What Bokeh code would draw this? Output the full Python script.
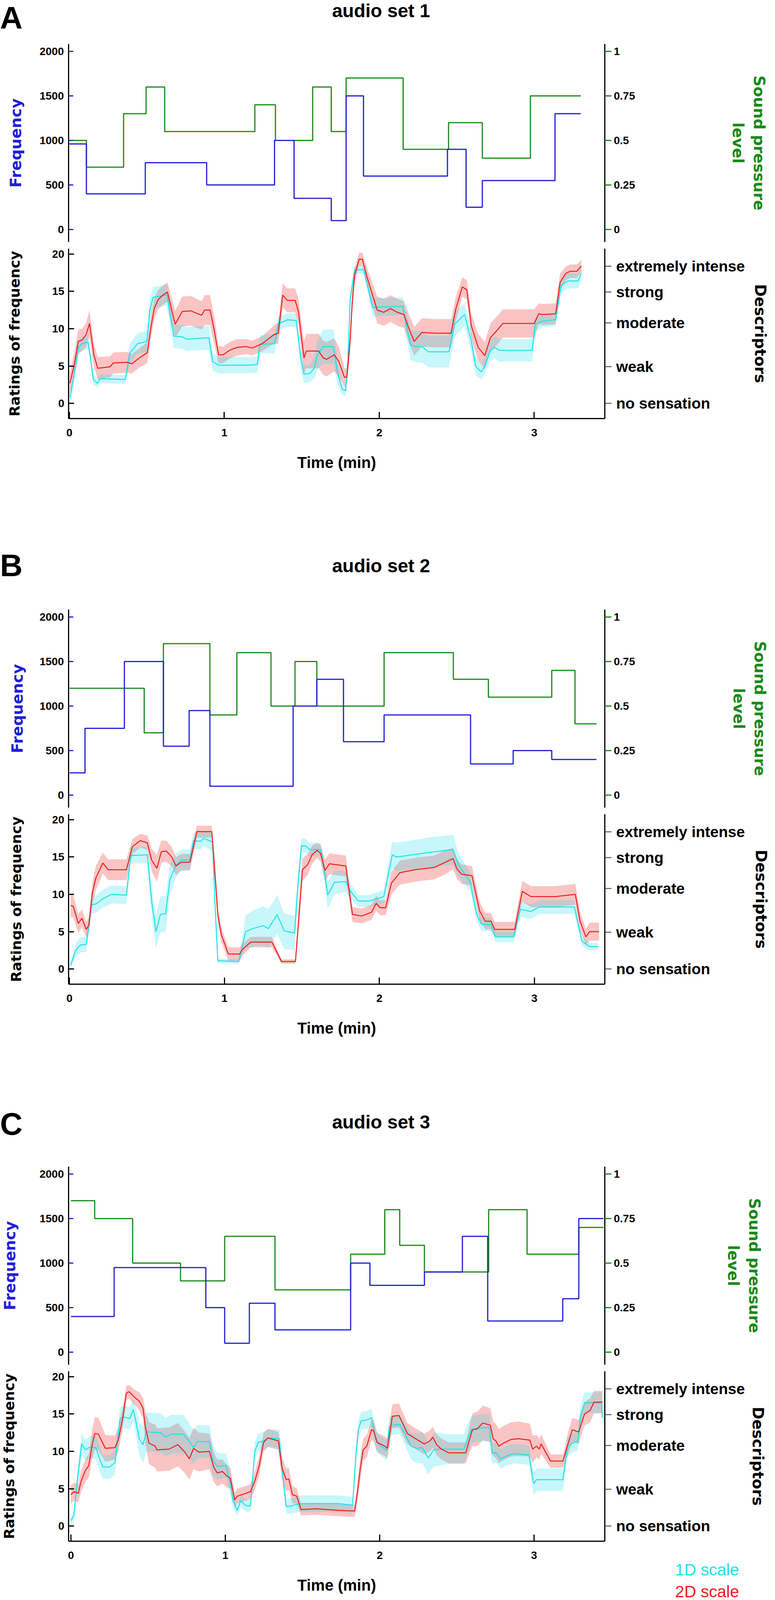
from bokeh.plotting import figure
from bokeh.models import Range1d, LinearAxis, FixedTicker, Div
from bokeh.layouts import column
from bokeh.embed import file_html
from bokeh.resources import INLINE

# ---------------- data ----------------
FREQ_TICKS = [0, 500, 1000, 1500, 2000]
SPL_TICKS = [0, 0.25, 0.5, 0.75, 1]
SPL_LABELS = ["0", "0.25", "0.5", "0.75", "1"]
RATING_TICKS = [0, 5, 10, 15, 20]
TIME_TICKS = [0, 1, 2, 3]
DESC_VALUES = [0, 4.9, 10.8, 14.9, 18.4]
DESC_LABELS = ["no sensation", "weak", "moderate", "strong", "extremely intense"]
TITLES = ["audio set 1", "audio set 2", "audio set 3"]
LETTERS = ["A", "B", "C"]
LEGEND_TEXTS = ["1D scale", "2D scale"]

# audio set 1
A_FREQ_T = [0, 0.11, 0.49, 0.886, 1.324, 1.45, 1.69, 1.786, 1.898, 2.44, 2.56, 2.665, 3.134, 3.30]
A_FREQ_V = [960, 400, 750, 500, 1000, 350, 100, 1500, 600, 900, 250, 550, 1300, 1300]
A_SPL_T = [0, 0.11, 0.35, 0.495, 0.615, 1.197, 1.33, 1.57, 1.69, 1.786, 2.154, 2.447, 2.665, 2.975, 3.30]
A_SPL_V = [0.5, 0.35, 0.65, 0.8, 0.55, 0.7, 0.5, 0.8, 0.55, 0.85, 0.45, 0.6, 0.4, 0.75, 0.75]

A_RED_T = [0.003, 0.03, 0.058, 0.083, 0.108, 0.13, 0.158, 0.183, 0.263, 0.283,
           0.373, 0.403, 0.453, 0.503, 0.528, 0.548, 0.573, 0.603, 0.633, 0.658,
           0.683, 0.728, 0.783, 0.853, 0.873, 0.908, 0.933, 0.963, 0.993, 1.033,
           1.083, 1.143, 1.18, 1.245, 1.32, 1.348, 1.377, 1.406, 1.457, 1.478,
           1.514, 1.529, 1.609, 1.638, 1.659, 1.71, 1.739, 1.775, 1.79, 1.797,
           1.812, 1.826, 1.841, 1.87, 1.891, 1.92, 1.957, 1.986, 2.029, 2.072,
           2.116, 2.159, 2.188, 2.225, 2.275, 2.362, 2.464, 2.493, 2.536, 2.565,
           2.594, 2.638, 2.681, 2.717, 2.761, 2.797, 3.0, 3.029, 3.051, 3.138,
           3.167, 3.203, 3.232, 3.275, 3.304]
A_RED_Y = [2.7, 5.0, 8.3, 8.5, 9.2, 10.7, 6.5, 4.7, 4.9, 5.4,
           5.5, 5.3, 6.1, 6.8, 10.4, 12.7, 13.9, 14.5, 14.9, 12.7,
           10.6, 12.3, 12.4, 11.8, 12.5, 12.5, 10.0, 6.5, 6.5, 7.1,
           7.5, 7.6, 7.4, 8.0, 9.2, 9.4, 14.5, 13.8, 13.8, 12.3,
           6.1, 7.0, 7.0, 6.1, 5.9, 6.5, 5.6, 3.5, 3.5, 4.9,
           8.5, 13.7, 17.2, 19.3, 19.3, 17.0, 14.5, 12.5, 12.2, 12.7,
           12.2, 11.9, 10.2, 8.3, 9.5, 9.4, 9.4, 12.6, 15.6, 15.2,
           10.4, 7.5, 6.4, 8.8, 9.8, 10.7, 10.7, 12.0, 11.9, 12.0,
           16.2, 17.4, 17.7, 17.7, 18.4]
A_RED_S = [1.5, 1.6, 1.6, 1.5, 1.6, 1.8, 1.5, 1.5, 1.4, 1.4,
           1.4, 1.3, 1.3, 1.4, 1.5, 1.4, 1.3, 1.3, 1.3, 1.6,
           1.8, 2.0, 2.0, 1.9, 2.0, 2.0, 1.9, 1.2, 1.1, 1.1,
           1.1, 1.0, 1.0, 1.0, 1.2, 1.4, 1.6, 1.6, 1.6, 1.8,
           2.2, 2.3, 2.3, 2.3, 2.3, 2.2, 2.0, 1.2, 1.2, 1.3,
           1.4, 1.2, 1.0, 0.9, 0.9, 1.2, 1.5, 1.8, 1.8, 1.8,
           1.8, 1.8, 1.9, 1.9, 1.9, 1.9, 1.9, 1.6, 1.3, 1.3,
           1.6, 1.8, 1.8, 1.9, 1.9, 1.9, 1.9, 1.4, 1.4, 1.4,
           1.2, 0.9, 0.9, 0.9, 0.8]
A_CYAN_T = [0.005, 0.03, 0.06, 0.08, 0.12, 0.135, 0.155, 0.18, 0.2, 0.36,
            0.375, 0.39, 0.44, 0.5, 0.52, 0.54, 0.63, 0.655, 0.675, 0.73,
            0.755, 0.9, 0.925, 0.963, 1.143, 1.213, 1.23, 1.325, 1.348, 1.377,
            1.406, 1.464, 1.493, 1.514, 1.551, 1.58, 1.601, 1.638, 1.703, 1.732,
            1.761, 1.783, 1.797, 1.812, 1.841, 1.899, 1.928, 1.957, 1.993, 2.152,
            2.174, 2.203, 2.239, 2.275, 2.319, 2.449, 2.486, 2.551, 2.594, 2.623,
            2.659, 2.681, 2.717, 2.746, 2.775, 2.986, 3.007, 3.051, 3.138, 3.174,
            3.217, 3.283, 3.304]
A_CYAN_Y = [0.8, 3.8, 7.5, 8.0, 8.2, 6.3, 3.2, 2.7, 3.3, 3.2,
            4.8, 6.7, 8.0, 8.3, 12.5, 14.2, 14.5, 11.2, 9.0, 8.9,
            8.6, 8.8, 5.6, 5.1, 5.1, 5.2, 7.9, 8.0, 10.7, 10.9,
            11.2, 11.1, 6.1, 3.9, 4.0, 4.7, 6.5, 7.6, 7.6, 4.0,
            1.9, 1.7, 5.6, 13.9, 17.9, 17.9, 15.4, 12.8, 12.9, 13.0,
            10.5, 7.8, 7.6, 7.6, 6.9, 6.9, 10.6, 11.9, 8.3, 4.9,
            4.2, 5.0, 7.1, 7.5, 7.1, 7.1, 10.6, 11.0, 11.2, 15.8,
            16.4, 16.4, 17.4]
A_CYAN_S = [0.5, 1.0, 1.0, 0.9, 0.9, 0.9, 0.7, 0.6, 0.6, 0.6,
            1.0, 1.3, 1.4, 1.4, 1.5, 1.4, 1.4, 1.6, 1.6, 1.6,
            1.6, 1.6, 1.2, 1.1, 1.1, 1.1, 1.2, 1.3, 1.0, 0.9,
            0.9, 0.9, 1.2, 1.2, 1.2, 1.4, 2.0, 2.3, 2.3, 1.5,
            0.8, 0.7, 1.0, 1.0, 0.5, 0.5, 0.9, 1.2, 1.2, 1.2,
            1.6, 2.0, 2.1, 2.1, 2.1, 2.1, 1.7, 1.5, 1.5, 1.2,
            1.0, 1.1, 1.4, 1.5, 1.5, 1.5, 1.0, 0.8, 0.8, 1.0,
            1.0, 1.0, 1.0]

# audio set 2
B_FREQ_T = [0, 0.1, 0.354, 0.606, 0.772, 0.906, 1.443, 1.596, 1.768, 2.03, 2.588, 2.863, 3.112, 3.40]
B_FREQ_V = [250, 750, 1500, 550, 950, 100, 1000, 1300, 600, 900, 350, 500, 400, 400]
B_SPL_T = [0, 0.482, 0.606, 0.906, 1.08, 1.30, 1.455, 1.596, 2.03, 2.477, 2.703, 3.112, 3.262, 3.40]
B_SPL_V = [0.6, 0.35, 0.85, 0.45, 0.8, 0.5, 0.75, 0.5, 0.8, 0.65, 0.55, 0.7, 0.4, 0.4]

B_RED_T = [0.007, 0.024, 0.057, 0.08, 0.108, 0.125, 0.147, 0.17, 0.215, 0.249,
           0.367, 0.406, 0.457, 0.502, 0.53, 0.564, 0.592, 0.625, 0.66, 0.687,
           0.721, 0.777, 0.822, 0.918, 0.935, 0.957, 0.98, 1.025, 1.098, 1.115,
           1.17, 1.306, 1.368, 1.458, 1.475, 1.503, 1.537, 1.565, 1.598, 1.62,
           1.649, 1.677, 1.783, 1.80, 1.826, 1.887, 1.949, 1.979, 2.004, 2.04,
           2.077, 2.132, 2.23, 2.353, 2.426, 2.475, 2.5, 2.53, 2.597, 2.646,
           2.683, 2.72, 2.744, 2.873, 2.922, 2.977, 3.136, 3.264, 3.295, 3.332,
           3.356, 3.417]
B_RED_Y = [8.5, 8.4, 6.1, 6.8, 5.3, 5.9, 10.1, 12.2, 14.2, 13.3,
           13.3, 16.4, 17.2, 16.9, 14.6, 13.5, 15.7, 15.8, 15.0, 13.8,
           14.3, 14.3, 18.4, 18.4, 13.9, 7.3, 4.6, 2.0, 2.0, 2.6,
           3.6, 3.6, 1.0, 1.0, 5.6, 13.3, 14.0, 15.3, 15.9, 15.5,
           13.2, 14.1, 13.8, 11.1, 7.3, 7.1, 7.6, 8.8, 8.2, 8.2,
           11.5, 12.9, 13.3, 13.6, 14.3, 14.8, 13.4, 12.7, 12.5, 7.8,
           6.4, 6.4, 5.3, 5.3, 10.4, 9.7, 9.7, 10.0, 6.4, 4.3,
           5.0, 5.0]
B_RED_S = [1.5, 1.5, 1.3, 1.2, 1.0, 1.0, 1.5, 1.6, 1.4, 1.4,
           1.4, 1.0, 0.9, 1.0, 1.5, 1.8, 1.5, 1.4, 1.3, 1.2,
           1.1, 1.1, 0.8, 0.8, 1.0, 1.0, 1.0, 0.9, 0.9, 0.8,
           0.7, 0.7, 0.3, 0.3, 1.3, 1.5, 1.4, 1.2, 1.0, 1.1,
           1.4, 1.4, 1.4, 1.2, 1.0, 1.0, 1.0, 1.0, 1.0, 1.0,
           1.5, 1.6, 1.6, 1.6, 1.6, 1.4, 1.3, 1.3, 1.3, 1.2,
           1.1, 1.1, 1.0, 1.0, 1.4, 1.4, 1.4, 1.4, 1.2, 1.1,
           1.2, 1.2]
B_CYAN_T = [0.007, 0.04, 0.069, 0.108, 0.142, 0.17, 0.215, 0.27, 0.367, 0.395,
            0.502, 0.53, 0.558, 0.586, 0.62, 0.648, 0.687, 0.721, 0.777, 0.8,
            0.845, 0.867, 0.923, 0.94, 0.957, 1.092, 1.137, 1.182, 1.25, 1.283,
            1.34, 1.385, 1.452, 1.475, 1.497, 1.525, 1.548, 1.62, 1.643, 1.666,
            1.71, 1.783, 1.814, 1.863, 1.936, 2.028, 2.083, 2.108, 2.316, 2.475,
            2.511, 2.585, 2.628, 2.658, 2.72, 2.75, 2.866, 2.91, 2.977, 3.032,
            3.258, 3.307, 3.356, 3.411]
B_CYAN_Y = [0.5, 2.5, 3.2, 3.3, 8.6, 8.7, 9.4, 10.0, 9.9, 15.2,
            15.3, 9.1, 5.0, 7.3, 7.4, 12.0, 13.9, 14.6, 14.6, 17.2,
            17.1, 17.5, 17.0, 8.2, 1.1, 1.0, 5.0, 5.4, 5.8, 5.4,
            7.3, 5.1, 4.8, 11.5, 16.5, 16.5, 16.0, 16.0, 13.4, 9.9,
            11.6, 11.7, 10.4, 9.1, 9.1, 9.7, 15.3, 15.0, 15.6, 16.0,
            13.9, 11.7, 7.3, 6.0, 5.9, 4.3, 4.3, 8.0, 7.7, 8.3,
            8.3, 3.7, 3.0, 3.0]
B_CYAN_S = [0.4, 0.9, 1.0, 1.0, 1.2, 1.2, 1.2, 1.2, 1.2, 1.1,
            1.1, 2.0, 2.2, 2.4, 2.4, 2.0, 1.6, 1.4, 1.4, 1.1,
            1.1, 1.0, 1.2, 1.2, 0.3, 0.3, 2.2, 2.4, 2.6, 2.6,
            2.6, 2.4, 2.3, 1.5, 1.0, 0.9, 0.9, 0.9, 1.5, 1.8,
            1.6, 1.4, 1.0, 0.8, 0.8, 0.9, 1.8, 1.9, 2.0, 2.0,
            1.6, 1.2, 1.0, 0.9, 0.9, 0.7, 0.7, 1.0, 1.0, 0.9,
            0.9, 0.6, 0.5, 0.5]

# audio set 3
C_FREQ_T = [0, 0.28, 0.874, 0.996, 1.156, 1.322, 1.812, 1.937, 2.29, 2.536, 2.70, 3.186, 3.29, 3.45]
C_FREQ_V = [400, 950, 500, 100, 550, 250, 1000, 750, 900, 1300, 350, 600, 1500, 1500]
C_SPL_T = [0, 0.154, 0.40, 0.71, 0.996, 1.322, 1.812, 2.033, 2.13, 2.29, 2.706, 2.955, 3.29, 3.45]
C_SPL_V = [0.85, 0.75, 0.5, 0.4, 0.65, 0.35, 0.55, 0.8, 0.6, 0.45, 0.8, 0.55, 0.7, 0.7]

C_RED_T = [0.0, 0.019, 0.048, 0.065, 0.093, 0.116, 0.138, 0.155, 0.178, 0.223,
           0.285, 0.308, 0.336, 0.359, 0.376, 0.41, 0.444, 0.467, 0.484, 0.506,
           0.546, 0.557, 0.636, 0.693, 0.738, 0.767, 0.795, 0.829, 0.897, 0.925,
           0.948, 0.982, 1.01, 1.033, 1.061, 1.078, 1.123, 1.163, 1.191, 1.22,
           1.248, 1.276, 1.344, 1.367, 1.395, 1.412, 1.435, 1.463, 1.491, 1.588,
           1.733, 1.838, 1.856, 1.874, 1.893, 1.917, 1.947, 1.96, 1.984, 2.033,
           2.051, 2.082, 2.125, 2.155, 2.179, 2.24, 2.289, 2.326, 2.344, 2.369,
           2.4, 2.448, 2.558, 2.582, 2.601, 2.631, 2.668, 2.717, 2.735, 2.753,
           2.772, 2.802, 2.851, 2.9, 2.973, 2.991, 3.016, 3.034, 3.046, 3.107,
           3.187, 3.223, 3.248, 3.29, 3.327, 3.364, 3.388, 3.443]
C_RED_Y = [4.2, 4.6, 4.4, 5.9, 7.4, 8.1, 10.9, 12.4, 12.3, 10.4,
           10.5, 11.6, 14.5, 17.8, 18.0, 17.3, 16.7, 15.8, 13.1, 11.1,
           10.7, 10.2, 10.3, 10.9, 9.9, 9.0, 10.4, 9.9, 10.0, 7.9,
           7.1, 7.3, 6.7, 6.4, 3.5, 4.0, 4.3, 4.6, 6.0, 8.1,
           11.2, 11.8, 11.4, 7.8, 6.2, 6.3, 4.2, 4.0, 2.2, 2.3,
           2.1, 2.0, 4.5, 7.6, 10.2, 10.7, 12.9, 12.8, 11.2, 10.7,
           10.4, 14.7, 14.8, 13.5, 12.4, 11.6, 11.0, 11.4, 11.9, 10.9,
           10.3, 9.8, 9.8, 11.6, 12.9, 13.0, 13.8, 13.5, 11.7, 11.4,
           10.7, 11.1, 11.6, 11.7, 11.5, 10.3, 10.7, 10.3, 11.0, 8.7,
           8.7, 11.2, 12.9, 12.6, 15.0, 15.5, 16.6, 16.6]
C_RED_S = [1.2, 1.2, 1.2, 1.4, 1.5, 1.6, 2.0, 2.2, 2.2, 1.8,
           1.6, 1.6, 1.4, 1.0, 0.9, 1.0, 1.2, 1.4, 2.2, 2.8,
           2.9, 2.9, 2.9, 2.9, 2.8, 2.8, 2.8, 2.6, 2.4, 2.0,
           1.8, 1.6, 1.5, 1.4, 1.0, 1.0, 1.0, 1.0, 1.2, 1.3,
           1.3, 1.2, 1.2, 1.5, 1.5, 1.5, 1.2, 1.0, 0.8, 0.8,
           0.8, 0.8, 1.2, 1.5, 1.5, 1.5, 1.4, 1.4, 1.3, 1.3,
           1.3, 1.6, 1.6, 1.5, 1.4, 1.4, 1.4, 1.4, 1.4, 1.4,
           1.4, 1.4, 1.4, 1.8, 2.2, 2.3, 2.3, 2.3, 2.3, 2.3,
           2.3, 2.3, 2.3, 2.3, 2.2, 1.8, 1.5, 1.4, 1.3, 0.9,
           0.9, 1.5, 1.6, 1.6, 1.6, 1.6, 1.5, 1.5]
C_CYAN_T = [0.0, 0.019, 0.042, 0.07, 0.093, 0.127, 0.161, 0.183, 0.206, 0.251,
            0.285, 0.319, 0.342, 0.382, 0.404, 0.421, 0.444, 0.467, 0.489, 0.58,
            0.614, 0.648, 0.727, 0.761, 0.795, 0.818, 0.897, 0.92, 0.948, 1.005,
            1.033, 1.05, 1.078, 1.1, 1.123, 1.14, 1.163, 1.191, 1.214, 1.248,
            1.276, 1.35, 1.372, 1.395, 1.429, 1.463, 1.48, 1.733, 1.825, 1.844,
            1.862, 1.88, 1.917, 1.947, 1.978, 2.009, 2.045, 2.063, 2.082, 2.131,
            2.167, 2.204, 2.24, 2.277, 2.314, 2.35, 2.387, 2.436, 2.546, 2.57,
            2.594, 2.631, 2.711, 2.729, 2.753, 2.784, 2.821, 2.875, 2.967, 2.998,
            3.016, 3.187, 3.217, 3.248, 3.284, 3.302, 3.327, 3.437, 3.443]
C_CYAN_Y = [0.7, 1.4, 6.2, 11.0, 10.2, 10.6, 10.5, 9.2, 7.9, 7.9,
            8.5, 14.4, 14.6, 14.4, 15.6, 14.0, 11.6, 10.9, 12.6, 12.5,
            11.9, 12.3, 12.3, 11.5, 10.5, 11.3, 11.3, 8.8, 8.0, 8.1,
            5.7, 3.4, 2.1, 3.4, 2.9, 2.7, 2.7, 10.0, 11.2, 11.4,
            11.8, 11.7, 6.9, 2.6, 2.7, 2.9, 3.0, 3.0, 2.8, 9.0,
            12.9, 14.1, 14.2, 14.5, 11.4, 10.7, 10.1, 13.3, 13.5, 13.6,
            12.2, 10.7, 10.4, 10.5, 9.1, 10.2, 10.3, 10.3, 10.3, 11.7,
            12.9, 13.1, 13.2, 9.7, 9.8, 9.0, 9.4, 9.7, 9.5, 5.7,
            6.2, 6.2, 10.6, 11.1, 11.4, 14.8, 16.5, 16.5, 14.5]
C_CYAN_S = [0.5, 0.7, 1.3, 1.4, 1.4, 1.5, 1.6, 1.6, 1.6, 1.6,
            1.6, 1.5, 1.5, 1.5, 1.5, 1.8, 2.2, 2.4, 2.6, 2.6,
            2.6, 2.6, 2.6, 2.4, 2.2, 2.2, 2.2, 2.0, 1.8, 1.6,
            1.4, 1.0, 0.7, 0.8, 0.8, 0.8, 0.8, 1.2, 1.2, 1.2,
            1.2, 1.2, 1.3, 1.0, 1.0, 1.1, 1.1, 1.1, 1.1, 1.3,
            1.3, 1.2, 1.2, 1.2, 1.3, 1.3, 1.3, 1.3, 1.3, 1.3,
            1.5, 1.8, 2.0, 2.1, 2.2, 2.2, 2.2, 2.0, 2.0, 2.0,
            1.8, 1.8, 1.8, 1.4, 1.3, 1.3, 1.3, 1.3, 1.3, 1.5,
            1.5, 1.5, 1.3, 1.3, 1.3, 1.4, 1.4, 1.4, 1.4]

# ---------------- styling ----------------
PAGE_W = 1967
FRAME_W = 1372
TOP_H = 507
BOT_H = 435
BLUE = "#1f1fd6"
GREEN = "#178a17"
RED = "#ee1a1a"
CYAN = "#1ee0e8"
RED_FILL = "#f03c3c"
CYAN_FILL = "#00dce6"
NUM_FONT = "Liberation Sans"
TITLE_FONT = "DejaVu Sans"


def base_axis(ax, tick_color, tick_in, tick_out, standoff, size="28px"):
    ax.axis_line_width = 3
    ax.axis_line_color = "black"
    ax.major_tick_line_color = tick_color
    ax.major_tick_line_width = 3
    ax.major_tick_in = tick_in
    ax.major_tick_out = tick_out
    ax.minor_tick_line_color = None
    ax.major_label_text_font = NUM_FONT
    ax.major_label_text_font_style = "bold"
    ax.major_label_text_font_size = size
    ax.major_label_text_color = "black"
    ax.major_label_standoff = standoff


def axis_title(ax, text, color, standoff, font=TITLE_FONT, size="39px"):
    ax.axis_label = text
    ax.axis_label_text_font = font
    ax.axis_label_text_font_style = "bold"
    ax.axis_label_text_font_size = size
    ax.axis_label_text_color = color
    ax.axis_label_standoff = standoff


def span(text, left, width, top, size, color, bold=True, align="left"):
    weight = "bold" if bold else "normal"
    return (f'<span style="position:absolute;left:{left}px;width:{width}px;top:{top}px;'
            f"text-align:{align};white-space:nowrap;font-family:'Liberation Sans';"
            f'font-weight:{weight};font-size:{size}px;line-height:normal;color:{color};">{text}</span>')


def header(letter, title, h, letter_top, title_top):
    html = (f'<div style="position:relative;width:{PAGE_W}px;height:{h}px;">'
            + span(letter, 0, 100, letter_top, 80, "#000")
            + span(title, 475, 1000, title_top, 48, "#000", align="center")
            + "</div>")
    return Div(text=html, width=PAGE_W, height=h, margin=0)


def legend_div(h):
    html = (f'<div style="position:relative;width:{PAGE_W}px;height:{h}px;">'
            + span(LEGEND_TEXTS[0], 1491, 400, 8, 42, CYAN, bold=False, align="right")
            + span(LEGEND_TEXTS[1], 1491, 400, 64, 42, RED, bold=False, align="right")
            + "</div>")
    return Div(text=html, width=PAGE_W, height=h, margin=(-h, 0, 0, 0))


def clean(p):
    p.outline_line_color = None
    p.background_fill_color = None
    p.border_fill_color = None
    p.xgrid.visible = False
    p.ygrid.visible = False


def make_top(frame_left, x0, px_per_min, ft, fv, st, sv, spl_standoff, freq_standoff):
    x1 = x0 + FRAME_W / px_per_min
    bl = frame_left - 8
    p = figure(frame_width=FRAME_W, frame_height=TOP_H,
               x_range=Range1d(x0, x1), y_range=Range1d(-140, 2083),
               x_axis_location=None, y_axis_location=None,
               toolbar_location=None, output_backend="svg",
               min_border_left=bl, min_border_right=PAGE_W - bl - FRAME_W,
               min_border_top=5, min_border_bottom=8)
    p.extra_y_ranges = {"spl": Range1d(-140 / 2000, 2083 / 2000)}
    clean(p)

    la = LinearAxis(ticker=FixedTicker(ticks=FREQ_TICKS))
    base_axis(la, BLUE, 12, 0, 12)
    axis_title(la, "Frequency", BLUE, freq_standoff)
    p.add_layout(la, "left")

    ra = LinearAxis(y_range_name="spl", ticker=FixedTicker(ticks=SPL_TICKS),
                    major_label_overrides=dict(zip(SPL_TICKS, SPL_LABELS)))
    base_axis(ra, GREEN, 0, 17, 6)
    axis_title(ra, "Sound pressure\nlevel", GREEN, spl_standoff)
    p.add_layout(ra, "right")

    p.step(x=st, y=sv, mode="after", line_color=GREEN, line_width=3, y_range_name="spl")
    p.step(x=ft, y=fv, mode="after", line_color=BLUE, line_width=3)
    return p


def make_bottom(frame_left, x0, px_per_min, bottom_border, rt, ry, rs, ct, cy, cs,
                rating_standoff, desc_standoff):
    x1 = x0 + FRAME_W / px_per_min
    bl = frame_left - 8
    p = figure(frame_width=FRAME_W, frame_height=BOT_H,
               x_range=Range1d(x0, x1), y_range=Range1d(-2.04, 20.73),
               x_axis_location=None, y_axis_location=None,
               toolbar_location=None, output_backend="svg",
               min_border_left=bl, min_border_right=PAGE_W - bl - FRAME_W,
               min_border_top=9, min_border_bottom=bottom_border)
    clean(p)

    la = LinearAxis(ticker=FixedTicker(ticks=RATING_TICKS))
    base_axis(la, "black", 14, 0, 11)
    axis_title(la, "Ratings of frequency", "black", rating_standoff, size="36px")
    p.add_layout(la, "left")

    ra = LinearAxis(ticker=FixedTicker(ticks=DESC_VALUES),
                    major_label_overrides=dict(zip(DESC_VALUES, DESC_LABELS)))
    base_axis(ra, "#333333", 0, 17, 12, size="39px")
    ra.major_tick_line_width = 2
    axis_title(ra, "Descriptors", "black", desc_standoff)
    p.add_layout(ra, "right")

    ba = LinearAxis(ticker=FixedTicker(ticks=TIME_TICKS))
    base_axis(ba, "black", 17, 0, 26)
    axis_title(ba, "Time (min)", "black", 42, font=NUM_FONT, size="40px")
    p.add_layout(ba, "below")

    r_lo = [y - s for y, s in zip(ry, rs)]
    r_hi = [y + s for y, s in zip(ry, rs)]
    c_lo = [y - s for y, s in zip(cy, cs)]
    c_hi = [y + s for y, s in zip(cy, cs)]
    p.varea(x=rt, y1=r_lo, y2=r_hi, fill_color=RED_FILL, fill_alpha=0.3)
    p.varea(x=ct, y1=c_lo, y2=c_hi, fill_color=CYAN_FILL, fill_alpha=0.22)
    p.line(x=ct, y=cy, line_color=CYAN, line_width=2.5)
    p.line(x=rt, y=ry, line_color=RED, line_width=2.5)
    return p


# ---------------- panels ----------------
hA = header(LETTERS[0], TITLES[0], 107, 0, 0)
topA = make_top(163, -0.005, 396.5, A_FREQ_T, A_FREQ_V, A_SPL_T, A_SPL_V, 238, 35)
botA = make_bottom(163, -0.005, 396.5, 331, A_RED_T, A_RED_Y, A_RED_S,
                   A_CYAN_T, A_CYAN_Y, A_CYAN_S, 72, 14)

hB = header(LETTERS[1], TITLES[1], 153, 0, 19)
topB = make_top(159, -0.006, 396.5, B_FREQ_T, B_FREQ_V, B_SPL_T, B_SPL_V, 240, 31)
botB = make_bottom(159, -0.006, 396.5, 313, B_RED_T, B_RED_Y, B_RED_S,
                   B_CYAN_T, B_CYAN_Y, B_CYAN_S, 68, 16)

hC = header(LETTERS[2], TITLES[2], 149, 0, 13)
topC = make_top(177, -0.015, 395.0, C_FREQ_T, C_FREQ_V, C_SPL_T, C_SPL_V, 226, 50)
botC = make_bottom(177, -0.015, 395.0, 157, C_RED_T, C_RED_Y, C_RED_S,
                   C_CYAN_T, C_CYAN_Y, C_CYAN_S, 86, 8)

legC = legend_div(115)

page = column(hA, topA, botA, hB, topB, botB, hC, topC, botC, legC, spacing=0)

open("out.html", "w").write(file_html(page, INLINE))
